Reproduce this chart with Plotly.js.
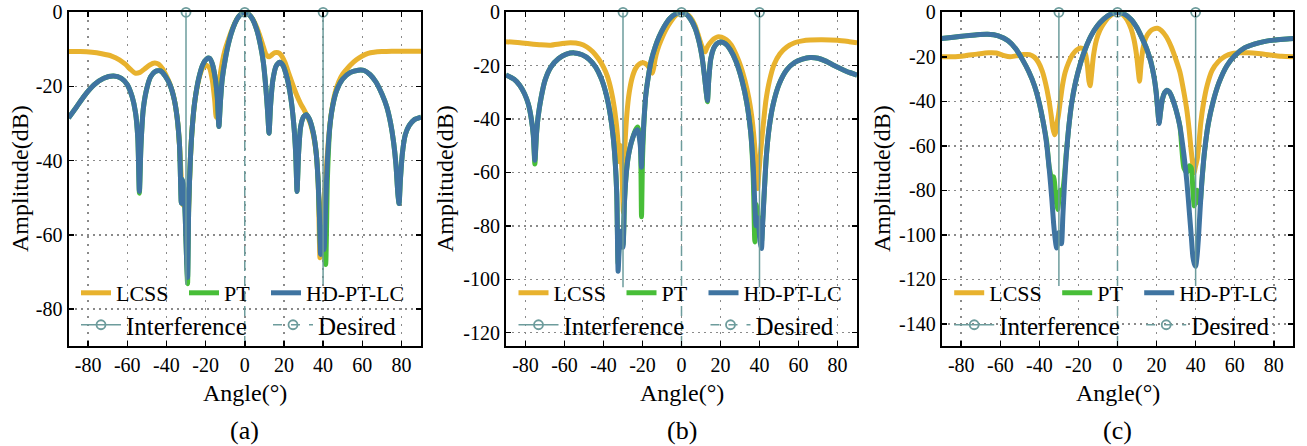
<!DOCTYPE html>
<html>
<head>
<meta charset="utf-8">
<script src="https://cdn.plot.ly/plotly-3.0.1.min.js"></script>
<style>html,body{margin:0;padding:0;background:#fff;}#chart{width:1307px;height:446px;}</style>
</head>
<body>
<div id="chart"></div>
<script>
// ---------------- DATA ----------------
const seriesNames = ['LCSS', 'PT', 'HD-PT-LC'];
const panelLabels = ['(a)', '(b)', '(c)'];
const xTickVals = [-80, -60, -40, -20, 0, 20, 40, 60, 80];
const yTickValsA = [0, -20, -40, -60, -80];
const yTickValsB = [0, -20, -40, -60, -80, -100, -120];
const yTickValsC = [0, -20, -40, -60, -80, -100, -120, -140];
const yRangeA = [-90, 0];
const yRangeB = [-125, 0];
const yRangeC = [-150, 0];
const interferenceAngles = [-30, 40];
const desiredAngles = [0];
const interferenceStemEnd = [-73.5, -103, -123];

// (a) LCSS
const angA_LCSS = [-90,-84,-78,-73,-68,-64,-61,-58.5,-56,-53.5,-51,-48.5,-46,-44,-42,-40,-38,-36,-34.5,-33.3,-32.4,-31.5,-30.5,-29.5,-28.6,-27.8,-26.8,-25.5,-23.5,-21.5,-19.8,-18,-16.5,-15.3,-14.6,-13.8,-12.8,-11.5,-10,-8,-6,-4,-2,0,2,4,6,8,9.5,11,12.5,14,15.5,17,18.5,20.5,22.5,24.5,26.5,28.5,30.5,32,33.5,35,36.5,37.5,38.4,39.2,40.2,41.3,42.5,44,46,48,50,52,54,57,60,63,66,70,75,82,90];
const ampA_LCSS = [-10.6,-10.6,-10.8,-11.2,-11.8,-12.8,-14,-15.3,-16.4,-16.2,-15.2,-14.2,-13.7,-14,-15.2,-17.2,-19.6,-23.5,-28.5,-36,-45,-52,-50,-68,-52,-40,-31,-24,-18.2,-15,-14.2,-15,-18.5,-24,-28.3,-25,-18,-13.5,-10,-6.8,-4,-1.8,-0.5,0,-0.5,-1.8,-3.9,-6.8,-9.3,-11.5,-12,-11.4,-10.9,-10.9,-11.5,-13.5,-16.5,-19.5,-22.3,-24.6,-26.5,-28,-30,-33,-38,-46,-66.2,-58,-52,-45,-36,-28,-22,-18.7,-16.7,-15.4,-14.2,-12.8,-11.8,-11.1,-10.8,-10.6,-10.5,-10.5,-10.5];
// (a) PT and HD-PT-LC share angle samples
const angA = [-90,-86,-82,-77,-72,-67,-63,-60,-57.5,-55.8,-54.6,-53.8,-53,-51.8,-50,-48,-45.5,-43,-40.5,-38,-36,-34.5,-33.3,-32.4,-31.8,-31,-30.4,-29.8,-29.2,-28.6,-27.8,-26.8,-25.5,-23.5,-21.5,-19.5,-18,-16.5,-15,-14,-13.2,-12.4,-11.5,-10,-8,-6,-4,-2,0,2,4,6,8,9.5,10.8,11.7,12.4,13.2,14.3,16,17.8,19.5,21.5,23.5,25,26,26.7,27.5,28.5,30,31.5,33,35,36.5,37.5,38.2,38.7,39.2,39.8,40.5,41.3,42.2,43.5,45,47,50,54,58,61,64,67,70,72.5,74.5,76,77.2,78.2,78.8,79.5,80.5,82,84,86.5,90];
const ampA_PT = [-28.5,-25.6,-22.6,-19.6,-17.8,-17.2,-17.8,-19.5,-22.8,-27,-34,-48.8,-36,-26,-20.5,-17.3,-15.9,-15.8,-17.3,-19.8,-23.5,-28.5,-36,-51.5,-45,-48,-55,-65,-73.2,-52,-40,-31,-24,-17.8,-14.2,-12.6,-12.4,-14,-18,-23,-30.8,-24,-18,-12.8,-7.8,-4.3,-1.9,-0.5,0,-0.5,-1.9,-4.5,-8.8,-13.5,-20.5,-27,-32.6,-25,-18.5,-14.5,-13.5,-14.3,-17.5,-23,-30,-38,-48.3,-38,-31,-28.2,-27.6,-28.8,-32.5,-38,-46,-56,-63,-60,-58,-64,-68,-45,-30.5,-25,-21,-18,-16.2,-15.6,-15.7,-16.8,-18.8,-22,-25.5,-30,-35,-41,-49,-51.6,-45,-38,-33,-30.5,-29,-28.3];
const ampA_HD = [-28.5,-25.6,-22.6,-19.6,-17.8,-17.2,-17.8,-19.5,-22.8,-27,-34,-48.3,-36,-26,-20.5,-17.3,-15.9,-15.8,-17.3,-19.8,-23.5,-28.5,-36,-51.5,-45,-48,-55,-65,-71.5,-52,-40,-31,-24,-17.8,-14.2,-12.6,-12.4,-14,-18,-23,-30.8,-24,-18,-12.8,-7.8,-4.3,-1.9,-0.5,0,-0.5,-1.9,-4.5,-8.8,-13.5,-20.5,-27,-32.6,-25,-18.5,-14.5,-13.5,-14.3,-17.5,-23,-30,-38,-48.3,-38,-31,-28.2,-27.6,-28.8,-32.5,-38,-46,-56,-65.3,-60,-60,-64,-52,-40,-30.5,-25,-21,-18,-16.2,-15.6,-15.7,-16.8,-18.8,-22,-25.5,-30,-35,-41,-49,-51.6,-45,-38,-33,-30.5,-29,-28.3];

// (b) LCSS
const angB_LCSS = [-90,-84,-78,-72,-67,-62,-57,-52,-48.5,-45.5,-42.5,-40,-38,-36,-34.5,-33.3,-32.4,-31.8,-31.2,-30.5,-29.8,-29,-28,-26.8,-25.3,-23.5,-21.5,-19.5,-17.5,-16,-15,-14.3,-13.5,-12.3,-10.5,-8,-5.5,-3,-0.5,2,4.5,7,9,10.5,11.5,12.2,13,14.5,16.5,18.5,20.5,23,25.5,28,30.5,32.5,34.5,36,37.3,38.3,39,39.7,40.6,41.8,43.3,45,47.5,50.5,54,58,62,66,72,80,86,90];
const ampB_LCSS = [-11,-11.3,-11.8,-12.2,-12.3,-11.8,-11.4,-11.8,-13,-14.8,-17.5,-20.5,-24,-29.5,-35.5,-42.5,-50,-56,-50,-60,-75,-50,-38,-30,-24.5,-21,-19.3,-18.9,-19.8,-21.5,-22.8,-21,-17.5,-14,-10.5,-6.5,-3.5,-1.2,0,-0.4,-1.8,-5,-9.5,-12.8,-14.5,-14.8,-13.3,-11.6,-10,-9.2,-9.3,-10.3,-12.2,-15.8,-20.5,-25.5,-32,-39,-48,-58,-66,-60,-52,-43,-33,-26,-19.5,-15.5,-13,-11.4,-10.7,-10.4,-10.3,-10.5,-11,-11.4];
// (b) PT and HD-PT-LC
const angB = [-90,-86,-83,-80.5,-78.5,-77,-76,-75.2,-74.4,-73.5,-72,-70,-67,-63,-59,-55,-51,-47.5,-44,-41,-38.5,-36.5,-35,-34,-33.2,-32.5,-31.9,-31.2,-30.6,-30,-29.3,-28.5,-27.5,-26.5,-25,-23.5,-22.5,-21.6,-21,-20.5,-20,-19.3,-18.3,-17,-15.5,-13.5,-11.5,-9,-6,-3,-0.5,2,4.5,7,9,10.5,11.8,12.7,13.3,14,15,16.5,18,20,22.5,25,28,31,33.5,35.5,36.8,37.6,38.3,39,39.6,40.3,41,41.6,42.4,43.5,45,47,50,54,58,62,66,70,74,78,82,86,90];
const ampB_PT = [-23.5,-25,-27.3,-30.5,-34.5,-40,-46,-56.8,-46,-39,-32,-25.5,-20.5,-17.3,-15.7,-15.2,-15.9,-17.5,-20.5,-25,-31,-38.5,-47,-56,-68,-94,-86,-84,-86,-87,-72,-62,-55,-51,-47,-44,-43,-45,-50,-76.6,-55,-42,-31,-24,-18,-13,-9.2,-5.5,-2.3,-0.6,0,-0.5,-2.4,-6,-11,-16.5,-24,-30,-33.5,-25,-17.5,-13.5,-11.8,-11.1,-11.8,-14,-18.5,-25.5,-34,-45,-62,-86,-72,-76,-78,-84,-86,-78,-68,-54,-43,-34.5,-27,-21.5,-18.8,-17.5,-16.9,-17.2,-18.3,-19.8,-21.2,-22.5,-23.5];
const ampB_HD = [-23.5,-25,-27.3,-30.5,-34.5,-40,-46,-55.4,-46,-39,-32,-25.5,-20.5,-17.3,-15.7,-15.2,-15.9,-17.5,-20.5,-25,-31,-38.5,-47,-56,-68,-97,-88,-82,-85,-88,-72,-62,-55,-51,-47,-44.5,-44,-47,-51,-58,-50,-41,-31,-24,-18,-13,-9.2,-5.5,-2.3,-0.6,0,-0.5,-2.4,-6,-11,-16.5,-24,-30,-33,-25,-17.5,-13.5,-11.8,-11.1,-11.8,-14,-18.5,-25.5,-34,-45,-58,-72,-80,-77,-80,-86,-88.5,-80,-68,-54,-43,-34.5,-27,-21.5,-18.8,-17.5,-16.9,-17.2,-18.3,-19.8,-21.2,-22.5,-23.5];

// (c) LCSS
const angC_LCSS = [-90,-84,-78,-72,-66,-62,-58,-55,-52,-48,-45,-42.5,-40.5,-38.5,-36.8,-35.2,-34,-33.1,-32.3,-31.7,-31,-30.2,-29.3,-28.2,-26.8,-25,-23,-21,-19,-17.5,-16.3,-15.4,-14.6,-14,-13.3,-12.3,-10.8,-9,-7,-5,-3,-1,0,1,3,5,7,8.5,9.8,10.7,11.3,12,13,14.5,16.5,18.5,20.5,22.5,25,27.5,30,32,34,35.5,36.7,37.7,38.5,39.2,40,40.8,41.6,42.6,44,46,48.5,51.5,55,59,63,67,72,78,84,90];
const ampC_LCSS = [-20,-20,-19.5,-18.8,-18.2,-18.3,-19.5,-20,-19.6,-19,-19,-20.2,-22.5,-26.5,-32,-39,-46,-52,-55,-54,-50,-46,-40,-33,-27,-22.5,-19,-17,-16,-16.5,-19,-24,-31,-33,-28,-19.5,-12.5,-8,-5,-2.6,-1.1,-0.2,0,-0.2,-1.3,-3.5,-7.5,-12.5,-19.5,-27,-31,-24,-16.5,-11.5,-8.7,-7.5,-7.2,-8.2,-11,-15.5,-21.5,-27,-36,-44,-53,-62,-68,-72,-69,-66,-60,-50,-41,-32.5,-26,-22.3,-19.8,-18.5,-18.2,-18.2,-18.5,-19.2,-19.8,-20];
// (c) PT and HD-PT-LC
const angC = [-90,-84,-78,-72,-66.5,-61,-56,-52,-48.5,-45.5,-42.5,-40,-38,-36.3,-34.9,-33.7,-32.7,-31.9,-31.2,-30.6,-30,-29.3,-28.7,-28,-27.2,-26.2,-25,-23.5,-21.5,-19,-16.5,-13.5,-10.5,-7,-3.5,0,3.5,7,10,12.5,15,17,18.7,19.8,20.6,21.3,22,23,24.2,25.3,26.5,28,30,32,34,35.5,36.8,37.8,38.6,39.3,40,40.7,41.4,42.2,43.2,44.5,46.5,49,52,56,60,65,70,75,80,85,90];
const ampC_PT = [-11.8,-11.2,-10.6,-10.1,-9.9,-10.6,-12.8,-16.5,-21.5,-26.5,-33,-41,-49.5,-58,-70,-74,-74,-80,-86,-88.6,-84,-80,-82,-80,-74,-63,-52,-41,-31.5,-23,-16.5,-10.5,-6.3,-3,-0.8,0,-0.8,-3.2,-7,-11.5,-16.5,-22,-29,-36,-44,-49.5,-45,-39,-36,-35,-35.8,-38.5,-44,-51.5,-70,-72,-69,-70,-80,-87,-84,-80,-85,-86,-76,-63,-50,-40,-31.5,-24,-19.5,-16,-14.3,-13.2,-12.5,-12.1,-11.8];
const ampC_HD = [-11.8,-11.2,-10.6,-10.1,-9.9,-10.6,-12.8,-16.5,-21.5,-26.5,-33,-41,-49.5,-59,-71,-83,-95,-102,-106,-103,-99,-103,-104,-92,-78,-64,-52,-41,-31.5,-23,-16.5,-10.5,-6.3,-3,-0.8,0,-0.8,-3.2,-7,-11.5,-16.5,-22,-29,-36,-44,-50,-45,-39,-36,-35,-35.8,-38.5,-44,-51.5,-64,-76,-90,-101,-110,-113,-114.2,-110,-102,-90,-76,-63,-50,-40,-31.5,-24,-19.5,-16,-14.3,-13.2,-12.5,-12.1,-11.8];

// ---------------- STYLE ----------------
const FONT = '"Liberation Serif", "Times New Roman", serif';
const colLCSS = '#E8B22E';
const colPT = '#48BE38';
const colHD = '#3F74A1';
const colStem = '#6D9C9C';

const W = 1307, H = 446;
const xDomPx = [[68.5, 421], [506, 857], [941.7, 1293.3]];
const yDomPx = [12.3, 346];
const yDom = [1 - yDomPx[1] / H, 1 - yDomPx[0] / H];

const panels = [
  {lx: angA_LCSS, ly: ampA_LCSS, x: angA, pt: ampA_PT, hd: ampA_HD, yr: yRangeA, yt: yTickValsA},
  {lx: angB_LCSS, ly: ampB_LCSS, x: angB, pt: ampB_PT, hd: ampB_HD, yr: yRangeB, yt: yTickValsB},
  {lx: angC_LCSS, ly: ampC_LCSS, x: angC, pt: ampC_PT, hd: ampC_HD, yr: yRangeC, yt: yTickValsC}
];

const data = [];
const layout = {
  width: W, height: H,
  margin: {l: 0, r: 0, t: 0, b: 0},
  paper_bgcolor: '#fff', plot_bgcolor: 'rgba(0,0,0,0)',
  font: {family: FONT, color: '#000'},
  showlegend: true,
  annotations: []
};

panels.forEach((p, i) => {
  const n = i === 0 ? '' : String(i + 1);
  const xa = 'x' + n, ya = 'y' + n;
  const leg1 = 'legend' + (i === 0 ? '' : String(2 * i + 1));
  const leg2 = 'legend' + String(2 * i + 2);
  const lineCommon = {mode: 'lines', xaxis: xa, yaxis: ya, legend: leg1, line: {width: 5, shape: 'spline', smoothing: 0.6}};
  data.push(Object.assign({}, lineCommon, {x: p.lx, y: p.ly, name: seriesNames[0], legendwidth: 63, line: Object.assign({}, lineCommon.line, {color: colLCSS})}));
  data.push(Object.assign({}, lineCommon, {x: p.x, y: p.pt, name: seriesNames[1], legendwidth: 37, line: Object.assign({}, lineCommon.line, {color: colPT})}));
  data.push(Object.assign({}, lineCommon, {x: p.x, y: p.hd, name: seriesNames[2], line: Object.assign({}, lineCommon.line, {color: colHD})}));

  // stems
  const ix = [], iy = [];
  interferenceAngles.forEach(a => { ix.push(a, a, null); iy.push(interferenceStemEnd[i], 0, null); });
  data.push({x: ix, y: iy, mode: 'lines', xaxis: xa, yaxis: ya, showlegend: false, hoverinfo: 'skip', line: {color: colStem, width: 1.5}});
  const dx = [], dy = [];
  desiredAngles.forEach(a => { dx.push(a, a, null); dy.push(p.yr[0], 0, null); });
  data.push({x: dx, y: dy, mode: 'lines', xaxis: xa, yaxis: ya, showlegend: false, hoverinfo: 'skip', line: {color: colStem, width: 1.5, dash: '10px,5px'}});
  // stem heads (also legend entries)
  const imx = [], imy = [];
  interferenceAngles.forEach(a => { imx.push(a, null); imy.push(0, null); });
  data.push({x: imx, y: imy, mode: 'lines+markers', name: 'Interference', xaxis: xa, yaxis: ya, legend: leg2, legendwidth: 137, cliponaxis: false,
    line: {color: colStem, width: 1.5}, marker: {symbol: 'circle-open', size: 9, color: colStem, line: {width: 1.8, color: colStem}}});
  const dmx = [], dmy = [];
  desiredAngles.forEach(a => { dmx.push(a, null); dmy.push(0, null); });
  data.push({x: dmx, y: dmy, mode: 'lines+markers', name: 'Desired', xaxis: xa, yaxis: ya, legend: leg2, cliponaxis: false,
    line: {color: colStem, width: 1.5, dash: 'dash'}, marker: {symbol: 'circle-open', size: 9, color: colStem, line: {width: 1.8, color: colStem}}});

  const axBase = {
    showline: true, linecolor: '#000', linewidth: 2, mirror: 'ticks',
    ticks: 'inside', ticklen: 5, tickwidth: 1.5, tickcolor: '#000',
    showgrid: true, gridcolor: '#8a8a8a', gridwidth: 1.5, zeroline: false,
    tickfont: {family: FONT, size: 20, color: '#000'}, fixedrange: true
  };
  layout['xaxis' + n] = Object.assign({}, axBase, {
    domain: [xDomPx[i][0] / W, xDomPx[i][1] / W], anchor: ya, range: [-90, 90],
    tickmode: 'array', tickvals: xTickVals, ticktext: xTickVals.map(v => String(v)), griddash: '2px,6px'
  });
  layout['yaxis' + n] = Object.assign({}, axBase, {
    domain: yDom, anchor: xa, range: p.yr,
    tickmode: 'array', tickvals: p.yt, ticktext: p.yt.map(v => String(v)), griddash: '2px,4px'
  });

  const left = xDomPx[i][0];
  const xAt = px => px / W;
  layout[leg1] = {x: xAt(left + 7.5), y: 1 - 293 / H, xanchor: 'left', yanchor: 'middle', orientation: 'h',
    bgcolor: 'rgba(0,0,0,0)', borderwidth: 0, itemwidth: 30, font: {family: FONT, size: 22, color: '#000'}};
  layout[leg2] = {x: xAt(left + 7.5), y: 1 - 325 / H, xanchor: 'left', yanchor: 'middle', orientation: 'h',
    bgcolor: 'rgba(0,0,0,0)', borderwidth: 0, itemwidth: 40, font: {family: FONT, size: 25, color: '#000'}};

  const cx = (xDomPx[i][0] + xDomPx[i][1]) / 2;
  const yTitleX = [20, 445, 882][i];
  layout.annotations.push(
    {text: 'Angle(°)', xref: 'paper', yref: 'paper', x: cx / W, y: 1 - 393 / H, showarrow: false, xanchor: 'center', yanchor: 'middle', font: {family: FONT, size: 24, color: '#000'}},
    {text: 'Amplitude(dB)', xref: 'paper', yref: 'paper', x: yTitleX / W, y: 1 - 179 / H, textangle: -90, showarrow: false, xanchor: 'center', yanchor: 'middle', font: {family: FONT, size: 24, color: '#000'}},
    {text: panelLabels[i], xref: 'paper', yref: 'paper', x: cx / W, y: 1 - 430 / H, showarrow: false, xanchor: 'center', yanchor: 'middle', font: {family: FONT, size: 26, color: '#000'}}
  );
});

Plotly.newPlot('chart', data, layout, {staticPlot: true, displayModeBar: false});
</script>
</body>
</html>
